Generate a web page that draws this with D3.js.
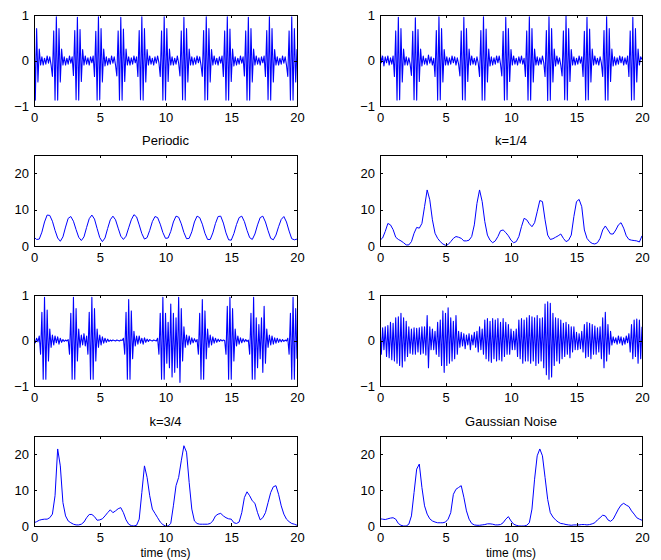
<!DOCTYPE html>
<html><head><meta charset="utf-8">
<script src="https://cdn.jsdelivr.net/npm/d3@7/dist/d3.min.js"></script>
<style>
body{margin:0;background:#fff}
text{font-family:"Liberation Sans",Arial,Helvetica,sans-serif;fill:#000}
</style>
</head><body>
<svg id="chart" width="661" height="560"></svg>
<script>
// ---------- data ----------
const xTicks = [0, 5, 10, 15, 20];
const waveTicks = [-1, 0, 1];
const envTicks = [0, 10, 20];
const waveStep = 0.1;   // ms between waveform samples
const envStep = 0.2;    // ms between envelope samples
const titles = ["Periodic", "k=1/4", "k=3/4", "Gaussian Noise"];
const xLabel = "time (ms)";

const periodicWave = [
 .96,-.87,.7,-.47,.25,-.1,
 .08,-.1,.05,-.08,.1,-.06,.08,-.1,
 -.35,.65,-.87,.96,-.87,.7,-.47,.25,-.1,
 .08,-.1,.05,-.08,.1,-.06,.08,
 -.33,.66,-.86,.95,-.87,.68,-.46,.24,-.1,
 .1,-.08,.06,-.1,.08,-.05,.1,
 -.35,.64,-.87,.96,-.86,.7,-.47,.25,-.12,
 .08,-.1,.05,-.08,.1,-.06,.08,-.1,
 -.34,.65,-.87,.95,-.87,.69,-.46,.25,-.1,
 .08,-.1,.06,-.08,.1,-.05,.08,
 -.35,.66,-.86,.96,-.87,.7,-.47,.24,-.1,
 .1,-.08,.05,-.1,.08,-.06,.1,-.05,
 -.35,.65,-.87,.96,-.87,.7,-.46,.25,-.1,
 .08,-.1,.05,-.08,.1,-.06,
 -.34,.65,-.86,.95,-.87,.7,-.47,.25,-.1,
 .08,-.1,.06,-.08,.1,-.05,.08,-.1,
 -.35,.66,-.87,.96,-.86,.7,-.47,.24,-.1,
 .1,-.08,.05,-.1,.08,-.06,.1,
 -.35,.65,-.87,.96,-.87,.69,-.46,.25,-.12,
 .08,-.1,.05,-.08,.1,-.06,.08,
 -.34,.65,-.87,.95,-.87,.7,-.47,.25,-.1,
 .1,-.08,.06,-.1,.08,-.05,.1,
 -.35,.66,-.86,.96,-.87,.7,-.47,.24,-.1,
 .08,-.1,.05,-.08,.1,-.06,.08,-.1,
 -.35,.65,-.87,.96,-.87,.7,-.47,.25
];

const k1Wave = [
 .25,-.05,.1,-.12,.08,-.05,.1,-.1,.06,-.08,.1,
 -.35,.65,-.87,.95,-.86,.7,-.47,.25,-.1,
 .08,-.1,.06,-.08,
 -.33,.64,-.86,.94,-.87,.68,-.46,.25,-.12,
 .1,-.08,.05,-.1,.12,-.06,.08,-.1,.05,
 -.35,.66,-.87,.96,-.86,.7,-.47,.24,-.1,
 .08,-.1,.06,-.08,.1,-.05,.08,-.1,.06,-.08,
 -.34,.65,-.86,.95,-.87,.7,-.46,.25,-.1,
 .1,-.08,.05,-.1,.08,-.06,
 -.35,.66,-.87,.96,-.87,.69,-.47,.25,-.12,
 .08,-.1,.06,-.08,.1,-.05,.1,-.08,
 -.34,.64,-.87,.95,-.86,.7,-.46,.24,-.1,
 .1,-.08,.05,-.1,.08,-.06,.1,-.08,.05,
 -.35,.65,-.87,.96,-.87,.7,-.47,.25,-.1,
 .08,-.1,.06,-.08,.1,-.05,
 -.35,.66,-.88,.96,-.87,.7,-.47,.25,-.12,
 .1,-.08,.06,-.1,
 -.34,.65,-.86,.97,-.87,.7,-.46,.24,-.1,
 .08,-.1,.05,-.08,.1,-.06,.08,
 -.35,.64,-.87,.95,-.86,.69,-.47,.25,-.1,
 .1,-.08,.05,-.1,.08,-.06,
 -.35,.66,-.87,.96,-.87,.7,-.46,.25,-.12,
 .08,-.1,.06,-.08,.1,-.05,.08,-.1,.06,-.08,.1,
 -.35,.65,-.87,.95,-.86,.7,-.47,.25,-.1,
 .08,.02
];

const k3Wave = [
 .02,-.05,.05,-.03,.1,-.3,.62,-.85,.95,-.85,
 .67,-.45,.25,-.15,.12,-.1,.1,-.05,.08,-.08,
 .05,-.04,.02,-.02,.01,-.01,.02,-.3,.6,-.85,
 .95,-.85,.7,-.45,.25,-.15,.12,-.1,.15,-.12,
 .1,-.3,.62,-.85,.95,-.85,.7,-.45,.25,-.15,
 .12,-.1,.08,-.06,.05,-.04,.03,-.02,.01,-.01,
 .01,0,-.01,.01,0,-.01,.01,0,.05,-.3,
 .62,-.85,.9,-.85,.65,-.4,.2,-.12,.1,-.08,
 .1,-.06,.05,-.08,.06,-.04,.03,-.02,.02,0,
 -.01,.01,0,-.01,.05,-.3,.6,-.85,.95,-.85,
 .6,-.5,.4,-.6,.8,-.8,.6,-.7,.5,-.6,
 .95,-.92,.7,-.45,.3,-.15,.12,-.1,.1,-.08,
 .06,-.05,.04,-.03,.02,-.3,.6,-.85,.9,-.85,
 .65,-.4,.25,-.15,.12,-.1,.08,-.06,.05,-.04,
 .03,-.02,.02,-.01,.01,0,-.3,.75,-.85,.95,
 -.85,.7,-.45,.25,-.12,.1,-.08,.06,-.05,.04,
 -.03,.02,-.02,.01,-.3,.6,-.85,.95,-.85,.5,
 -.6,.35,-.4,.5,-.7,.75,-.5,.25,-.15,.12,
 -.1,.1,-.08,.06,-.06,.05,-.04,.03,-.03,.02,
 -.02,.01,-.01,.05,-.3,.6,-.85,.95,-.85,.7,
 -.4
];

const noiseWave = [
 .3,-.3,.28,-.2,.3,-.35,.33,-.38,.4,-.42,
 .38,-.45,.5,-.5,.52,-.55,.6,-.58,.5,-.45,
 .42,-.35,.3,-.28,.25,-.3,.28,-.3,.27,-.25,
 .28,-.3,.3,-.28,.3,-.32,.55,-.6,.3,-.2,
 .25,-.2,.2,-.3,.4,-.35,.45,-.55,.65,-.7,
 .6,-.55,.72,-.5,.5,-.45,.42,-.4,.55,-.3,
 .2,-.15,.18,-.12,.15,-.18,.12,-.1,.15,-.2,
 .12,-.1,.18,-.15,.2,-.25,.3,-.2,.25,-.3,
 .45,-.4,.48,-.45,.42,-.48,.48,-.4,.45,-.45,
 .48,-.42,.4,-.45,.48,-.35,.4,-.3,.35,-.3,
 .25,-.2,.2,-.2,.25,-.35,.45,-.4,.48,-.5,
 .45,-.45,.5,-.45,.55,-.5,.52,-.45,.5,-.55,
 .55,-.5,.48,-.45,.5,-.6,.8,-.75,.85,-.85,
 .82,-.8,.6,-.55,.5,-.45,.48,-.5,.45,-.4,
 .38,-.35,.4,-.3,.35,-.38,.3,-.25,.3,-.2,
 .18,-.2,.15,-.18,.2,-.25,.35,-.38,.4,-.35,
 .38,-.4,.35,-.3,.32,-.3,.28,-.25,.3,-.4,
 .5,-.6,.62,-.45,.35,-.3,.2,-.1,.08,-.05,
 .06,-.08,.1,-.06,.08,-.1,.06,-.08,.1,-.05,
 .15,-.25,.35,-.4,.45,-.35,.47,-.5,.45,-.4,
 .3
];

const periodicEnv = [
 2.4,1.8,1.9,3.8,6.6,8.5,8.4,6.8,4.3,2.2,
 1.3,2.5,5.2,7.6,8.1,6.8,4.5,2.4,1.5,2.5,
 5.1,7.5,8.5,7.4,4.8,2.3,1.2,2.2,4.8,7.2,
 8.2,7.2,4.9,2.7,1.8,2.7,5.0,7.2,8.6,8.0,
 5.8,3.4,1.9,2.3,4.3,6.7,8.1,7.8,6.0,3.7,
 2.1,2.2,4.0,6.6,8.2,7.9,6.1,3.7,2.0,2.1,
 3.9,6.6,8.2,7.8,6.0,3.5,1.8,1.8,3.6,6.2,
 8.1,8.2,6.3,3.6,1.7,1.6,3.4,5.9,7.8,8.2,
 6.7,4.3,2.3,1.8,3.3,5.8,7.8,8.2,6.6,4.2,
 2.1,1.7,3.0,5.3,7.3,8.1,6.6,4.1,2.0,1.7,
 1.9
];

const k1Env = [
 1.6,2.2,4.0,6.2,5.8,4.5,2.4,1.8,1.4,0.9,
 0.3,0.3,1.2,3.5,5.1,4.9,6.2,10.8,15.4,12.7,
 7.2,3.5,2.1,1.2,0.55,0.2,0.4,1.2,2.1,2.6,
 2.4,2.1,1.4,1.4,1.6,2.6,5.8,11.7,15.4,12.2,
 6.7,3.0,1.6,0.9,1.4,2.6,4.2,4.4,3.7,2.8,
 1.6,0.9,1.2,2.6,5.3,7.6,7.2,6.1,5.3,6.4,
 9.4,12.5,12.2,7.2,3.0,1.8,2.0,2.4,2.8,3.3,
 2.1,1.2,1.6,3.0,8.1,12.2,12.8,10.8,4.4,2.1,
 1.2,0.7,0.55,0.9,2.1,4.4,5.5,4.4,3.3,3.3,
 4.4,5.8,6.4,4.9,2.8,1.8,1.6,1.5,1.4,1.1,
 2.8
];

const k3Env = [
 0.9,1.2,1.6,1.8,1.9,1.9,2.3,3.3,8.4,21.4,
 16.7,6.5,2.8,1.4,0.9,0.5,0.3,0.3,0.5,1.1,
 2.3,3.2,3.2,2.6,1.6,1.7,2.0,2.8,3.7,4.5,
 3.7,4.2,4.8,5.1,3.7,1.7,0.5,0.1,0.0,0.2,
 1.9,9.3,16.7,13.5,8.4,4.7,3.5,2.3,1.1,0.4,
 0.0,0.0,0.7,5.6,11.2,13.5,18.1,22.3,20.5,12.1,
 4.7,1.4,0.7,0.5,0.5,0.5,0.5,0.7,1.4,2.8,
 3.3,3.5,2.8,2.3,2.0,1.9,0.9,0.7,1.1,3.7,
 7.9,9.5,8.4,7.0,6.3,3.7,1.7,2.3,3.7,6.5,
 9.3,10.9,11.2,8.8,5.6,3.3,1.9,1.2,0.7,0.5,
 0.2
];

const noiseEnv = [
 2.0,1.9,1.8,2.0,2.2,2.3,1.9,0.7,0.2,0.0,
 0.0,0.5,2.8,9.3,15.8,17.2,10.7,5.6,3.3,2.0,
 1.4,1.1,0.9,0.9,0.9,1.1,1.9,3.7,8.8,10.2,
 10.7,11.2,8.0,4.2,1.9,0.7,0.3,0.2,0.2,0.3,
 0.4,0.6,0.6,0.5,0.3,0.3,0.4,0.9,1.9,2.6,
 1.4,0.5,0.2,0.0,0.0,0.0,0.2,0.9,4.7,13.0,
 19.5,21.4,19.5,13.5,7.4,3.7,2.5,1.7,1.1,0.7,
 0.6,0.4,0.3,0.2,0.3,0.3,0.3,0.4,0.4,0.3,
 0.4,0.6,0.9,1.7,2.3,3.0,2.8,1.7,1.3,1.9,
 3.3,4.7,5.8,6.3,5.8,5.4,4.2,3.3,2.3,1.9,
 1.6
];

// ---------- layout ----------
const svg = d3.select("#chart");
const colX = [[34, 297], [380, 642]];
const rowY = [[15, 106], [155, 246], [295, 386], [436, 526]];
const fontSize = 13;

const panels = [
  {series: periodicWave, step: waveStep, kind: "wave", row: 0, col: 0},
  {series: k1Wave,       step: waveStep, kind: "wave", row: 0, col: 1},
  {series: periodicEnv,  step: envStep,  kind: "env",  row: 1, col: 0, title: titles[0]},
  {series: k1Env,        step: envStep,  kind: "env",  row: 1, col: 1, title: titles[1]},
  {series: k3Wave,       step: waveStep, kind: "wave", row: 2, col: 0},
  {series: noiseWave,    step: waveStep, kind: "wave", row: 2, col: 1},
  {series: k3Env,        step: envStep,  kind: "env",  row: 3, col: 0, title: titles[2], xlab: true},
  {series: noiseEnv,     step: envStep,  kind: "env",  row: 3, col: 1, title: titles[3], xlab: true}
];

const fmt = d => d < 0 ? "\u2212" + Math.abs(d) : String(d);

panels.forEach((p, i) => {
  const [x0, x1] = colX[p.col];
  const [y0, y1] = rowY[p.row];
  const x = d3.scaleLinear().domain([0, 20]).range([x0, x1]);
  const y = p.kind === "wave"
    ? d3.scaleLinear().domain([-1, 1]).range([y1, y0])
    : d3.scaleLinear().domain([0, 25]).range([y1, y0]);
  const yt = p.kind === "wave" ? waveTicks : envTicks;

  const clipId = "clip" + i;
  svg.append("clipPath").attr("id", clipId)
    .append("rect").attr("x", x0).attr("y", y0).attr("width", x1 - x0).attr("height", y1 - y0);

  const line = d3.line().x((d, j) => x(j * p.step)).y(d => y(d));
  svg.append("path").datum(p.series)
    .attr("clip-path", `url(#${clipId})`)
    .attr("fill", "none").attr("stroke", "#0000ff")
    .attr("stroke-width", p.kind === "wave" ? 1.1 : 1)
    .attr("stroke-linejoin", "round")
    .attr("d", line);

  // axes (inward ticks on all four sides, MATLAB style)
  const gB = svg.append("g").attr("transform", `translate(0,${y1})`)
    .call(d3.axisBottom(x).tickValues(xTicks).tickSizeInner(-3).tickSizeOuter(0).tickPadding(7).tickFormat(d3.format("d")));
  const gT = svg.append("g").attr("transform", `translate(0,${y0})`)
    .call(d3.axisTop(x).tickValues(xTicks).tickSizeInner(-3).tickSizeOuter(0).tickFormat(""));
  const gL = svg.append("g").attr("transform", `translate(${x0},0)`)
    .call(d3.axisLeft(y).tickValues(yt).tickSizeInner(-3).tickSizeOuter(0).tickPadding(5).tickFormat(fmt));
  const gR = svg.append("g").attr("transform", `translate(${x1},0)`)
    .call(d3.axisRight(y).tickValues(yt).tickSizeInner(-3).tickSizeOuter(0).tickFormat(""));
  [gB, gT, gL, gR].forEach(g => {
    g.select(".domain").remove();
    g.selectAll("line").attr("stroke", "#000").attr("shape-rendering", "crispEdges");
    g.selectAll("text").attr("font-size", fontSize).attr("font-family", '"Liberation Sans",Arial,sans-serif').attr("fill", "#000");
  });

  svg.append("rect").attr("x", x0).attr("y", y0).attr("width", x1 - x0).attr("height", y1 - y0)
    .attr("fill", "none").attr("stroke", "#000").attr("stroke-width", 1).attr("shape-rendering", "crispEdges");

  if (p.title) {
    svg.append("text").attr("x", (x0 + x1) / 2).attr("y", y0 - 10)
      .attr("text-anchor", "middle").attr("font-size", fontSize).text(p.title);
  }
  if (p.xlab) {
    svg.append("text").attr("x", (x0 + x1) / 2).attr("y", y1 + 31)
      .attr("text-anchor", "middle").attr("font-size", 12).text(xLabel);
  }
});
</script>
</body></html>
